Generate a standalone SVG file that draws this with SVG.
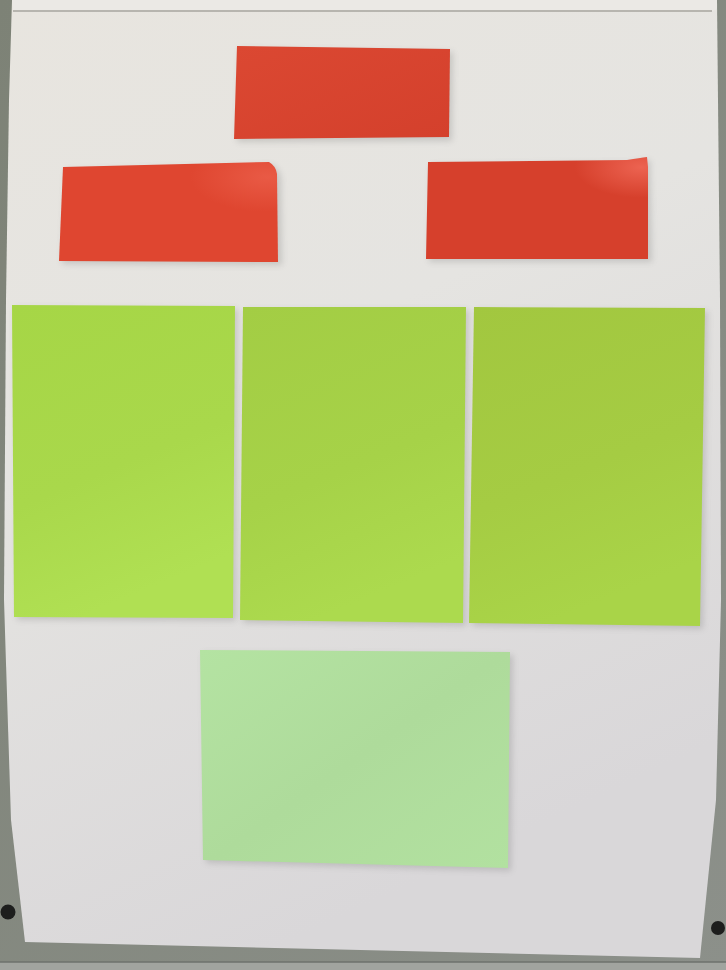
<svg xmlns="http://www.w3.org/2000/svg" width="726" height="970" viewBox="0 0 726 970">
<defs>
  <linearGradient id="paperG" x1="0" y1="0" x2="0.35" y2="1">
    <stop offset="0" stop-color="#e8e5df"/>
    <stop offset="0.45" stop-color="#e5e4e1"/>
    <stop offset="1" stop-color="#d9d7d9"/>
  </linearGradient>
  <linearGradient id="boardG" x1="0" y1="0" x2="1" y2="1">
    <stop offset="0" stop-color="#7d8276"/>
    <stop offset="1" stop-color="#8c908a"/>
  </linearGradient>
  <linearGradient id="redTop" x1="0" y1="0" x2="1" y2="1">
    <stop offset="0" stop-color="#db4832"/>
    <stop offset="1" stop-color="#d4402c"/>
  </linearGradient>
  <radialGradient id="redLeft" cx="0.95" cy="0.15" r="0.35">
    <stop offset="0" stop-color="#e95a45"/>
    <stop offset="1" stop-color="#df4630"/>
  </radialGradient>
  <radialGradient id="redRight" cx="0.97" cy="0.1" r="0.3">
    <stop offset="0" stop-color="#ec6351"/>
    <stop offset="1" stop-color="#d6402c"/>
  </radialGradient>
  <linearGradient id="g1" x1="0" y1="0" x2="0.3" y2="1">
    <stop offset="0" stop-color="#a6d646"/>
    <stop offset="0.6" stop-color="#a9d84b"/>
    <stop offset="1" stop-color="#b0e053"/>
  </linearGradient>
  <linearGradient id="g2" x1="0" y1="0" x2="0.3" y2="1">
    <stop offset="0" stop-color="#a3cd44"/>
    <stop offset="0.6" stop-color="#a6d248"/>
    <stop offset="1" stop-color="#acda4e"/>
  </linearGradient>
  <linearGradient id="g3" x1="0" y1="0" x2="0.3" y2="1">
    <stop offset="0" stop-color="#a2c73f"/>
    <stop offset="0.6" stop-color="#a5cc43"/>
    <stop offset="1" stop-color="#a9d448"/>
  </linearGradient>
  <linearGradient id="lg" x1="0" y1="0" x2="1" y2="1">
    <stop offset="0" stop-color="#b4e3a2"/>
    <stop offset="0.5" stop-color="#aedb9b"/>
    <stop offset="1" stop-color="#b2e1a0"/>
  </linearGradient>
  <filter id="blur" x="-10%" y="-10%" width="130%" height="130%">
    <feGaussianBlur stdDeviation="3"/>
  </filter>
</defs>
<style>
  .shadow { fill: #5a5a5a; opacity: 0.22; filter: url(#blur); }
  .hole { fill: #1d1e1d; }
</style>

<g id="board">
  <rect width="726" height="970" fill="url(#boardG)"/>
  <rect x="0" y="962" width="726" height="8" fill="#a1a49f"/>
  <line x1="0" y1="962" x2="726" y2="962" stroke="#6e726c" stroke-width="1.5"/>
  <circle class="hole" cx="8" cy="912" r="7.5"/>
  <circle class="hole" cx="718" cy="928" r="7"/>
</g>

<g id="flipchart-paper">
  <path d="M12,0 L717,0 L720,300 L721,600 L716,800 L700,958 L25,942 L11,820 L4,600 L6,300 L9,100 Z" fill="url(#paperG)"/>
  <path d="M12,0 H717 V8 Q716,11 711,11 H13 Z" fill="#ebe9e5"/>
  <line x1="13" y1="11" x2="712" y2="11" stroke="#b7b5af" stroke-width="2"/>
</g>

<g id="red-top">
  <polygon class="shadow" points="240,49 453,52 452,141 237,142"/>
  <polygon points="237,46 450,49 449,137 234,139" fill="url(#redTop)"/>
</g>

<g id="red-left">
  <path class="shadow" d="M66,170 L272,165 Q280,170 281,178 L282,265 L62,264 Z"/>
  <path d="M63,167 L269,162 Q276,166 277,174 L278,262 L59,261 Z" fill="url(#redLeft)"/>
</g>

<g id="red-right">
  <path class="shadow" d="M431,165 L630,163 Q642,161 650,160 L652,262 L429,262 Z"/>
  <path d="M428,162 L627,160 Q640,158 647,157 L648,167 L648,259 L426,259 Z" fill="url(#redRight)"/>
</g>

<g id="green-1">
  <polygon class="shadow" points="15,308 238,309 236,621 17,620"/>
  <polygon points="12,305 235,306 233,618 14,617" fill="url(#g1)"/>
</g>

<g id="green-2">
  <polygon class="shadow" points="246,310 469,310 466,626 243,623"/>
  <polygon points="243,307 466,307 463,623 240,620" fill="url(#g2)"/>
</g>

<g id="green-3">
  <polygon class="shadow" points="477,310 708,311 703,629 472,626"/>
  <polygon points="474,307 705,308 700,626 469,623" fill="url(#g3)"/>
</g>

<g id="light-green">
  <polygon class="shadow" points="203,653 513,655 511,871 206,863"/>
  <polygon points="200,650 510,652 508,868 203,860" fill="url(#lg)"/>
</g>

<g id="connectors"/>
</svg>
